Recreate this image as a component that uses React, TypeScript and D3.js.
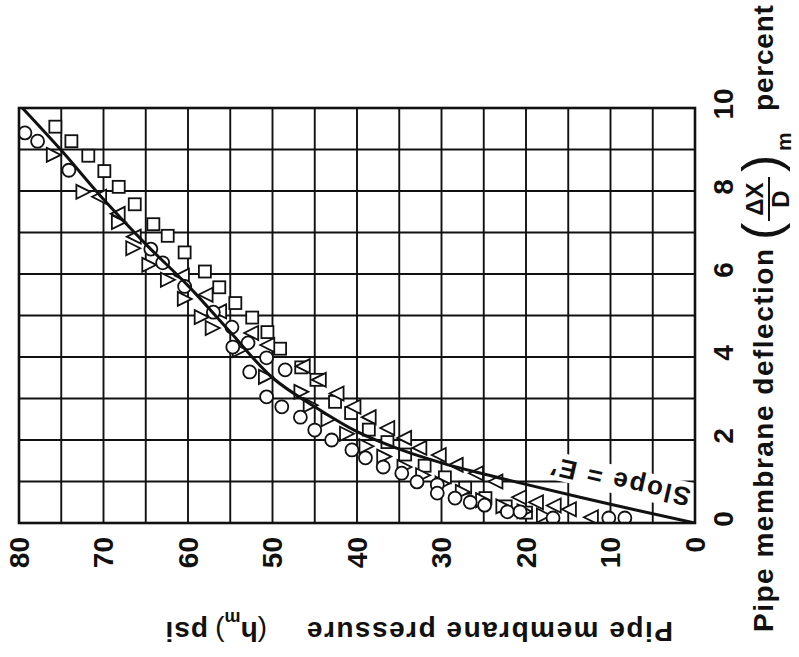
import React from 'react';
import * as d3 from 'd3';

// chart is drawn turned on its side, like the scanned figure
const W = 799;
const H = 657;
const plot = { left: 19, right: 695, top: 108, bottom: 523 };

const pressureTicks = [80, 70, 60, 50, 40, 30, 20, 10, 0];
const deflectionTicks = [0, 2, 4, 6, 8, 10];

// [pressure psi, deflection percent]
const circlePoints = [
  [79.3, 9.4], [77.8, 9.2], [74.1, 8.5], [64.4, 6.6], [63.0, 6.27], [60.4, 5.7],
  [57.0, 5.08], [54.8, 4.72], [52.9, 4.34], [54.7, 4.24], [50.7, 3.98], [52.7, 3.64],
  [48.5, 3.69], [50.7, 3.04], [48.9, 2.8], [46.7, 2.55], [45.0, 2.24], [43.0, 2.0],
  [40.6, 1.76], [39.0, 1.57], [36.9, 1.35], [34.7, 1.2], [32.9, 0.99], [30.5, 0.92],
  [30.5, 0.72], [28.4, 0.6], [26.6, 0.5], [24.9, 0.43], [22.2, 0.27], [20.7, 0.27],
  [16.8, 0.12], [10.2, 0.12], [8.3, 0.12],
];
const squarePoints = [
  [75.7, 9.55], [73.8, 9.2], [71.8, 8.85], [69.9, 8.48], [68.2, 8.1], [66.3, 7.68],
  [64.1, 7.2], [62.4, 6.92], [60.4, 6.52], [58.0, 6.06], [56.3, 5.68], [54.4, 5.3],
  [52.4, 4.95], [50.6, 4.6], [49.1, 4.2], [46.6, 3.75], [44.8, 3.45], [42.6, 2.92],
  [40.7, 2.65], [38.6, 2.25], [36.4, 1.95], [34.3, 1.65], [32.0, 1.38], [29.6, 1.1],
  [27.2, 0.85], [24.8, 0.6], [22.4, 0.4], [20.0, 0.25],
];
const rightTriPoints = [
  [76.0, 8.87], [72.5, 7.98], [68.3, 7.25], [66.6, 6.62], [64.7, 6.22], [62.5, 5.86],
  [60.5, 5.4], [58.5, 4.96], [57.2, 4.7], [54.0, 4.17], [50.9, 3.52], [46.7, 3.16],
  [45.6, 2.84], [43.5, 2.5], [41.3, 2.15], [39.0, 1.85], [36.9, 1.6], [34.5, 1.35],
  [32.3, 1.15], [30.0, 0.95], [27.6, 0.75], [25.2, 0.55], [22.8, 0.4], [20.3, 0.28],
  [18.0, 0.18],
];
const leftTriPoints = [
  [70.4, 7.86], [68.2, 7.45], [66.3, 6.9], [60.6, 5.96], [57.8, 5.5], [56.2, 5.1],
  [52.4, 4.58], [50.5, 4.29], [46.3, 3.78], [44.4, 3.45], [42.3, 3.12], [40.3, 2.8],
  [38.5, 2.55], [36.3, 2.29], [34.3, 2.05], [32.5, 1.81], [30.2, 1.64], [28.2, 1.4],
  [25.8, 1.2], [23.5, 1.0], [20.7, 0.62], [18.7, 0.5], [16.6, 0.42], [14.8, 0.33],
  [12.2, 0.14],
];

// fitted curve, slope = E'
const curvePsi = [0, 10, 20, 25, 30, 35, 40, 45, 50, 55, 60, 65, 70, 75, 79.6];
const curveDefl = [0, 0.45, 0.93, 1.18, 1.45, 1.78, 2.2, 2.8, 3.5, 4.6, 5.72, 6.72, 7.8, 8.98, 10];

const FONT = '"Liberation Sans", Arial, Helvetica, sans-serif';
const INK = '#111';

export default function App() {
  const x = d3.scaleLinear().domain([80, 0]).range([plot.left, plot.right]);
  const y = d3.scaleLinear().domain([0, 10]).range([plot.bottom, plot.top]);

  const gridX = d3.range(0, 81, 5);
  const gridY = d3.range(0, 11, 1);

  const line = d3.line<number>()
    .x(i => x(curvePsi[i]))
    .y(i => y(curveDefl[i]))
    .curve(d3.curveCatmullRom.alpha(0.5));
  const curvePath = line(d3.range(curvePsi.length)) || '';

  const mk = { fill: '#fff', stroke: INK, strokeWidth: 1.8 };

  return (
    <svg width={W} height={H} style={{ position: 'absolute', left: 0, top: 0, background: '#fff' }}
      fontFamily={FONT}>
      <defs>
        <clipPath id="plotClip">
          <rect x={plot.left} y={plot.top} width={plot.right - plot.left} height={plot.bottom - plot.top} />
        </clipPath>
      </defs>
      <rect width={W} height={H} fill="#fff" />

      {/* grid */}
      <g stroke={INK} strokeWidth={1.9}>
        {gridX.map(v => (
          <line key={'gx' + v} x1={x(v)} x2={x(v)} y1={plot.top} y2={plot.bottom} />
        ))}
        {gridY.map(v => (
          <line key={'gy' + v} x1={plot.left} x2={plot.right} y1={y(v)} y2={y(v)} />
        ))}
      </g>

      {/* white box behind the slope label */}
      <g transform="translate(692,489) rotate(193)">
        <rect x={-2} y={-22} width={152} height={28} fill="#fff" />
      </g>

      {/* data */}
      <g clipPath="url(#plotClip)">
        {squarePoints.map((d, i) => (
          <rect key={'s' + i} x={x(d[0]) - 6} y={y(d[1]) - 6} width={12} height={12} {...mk} />
        ))}
        {leftTriPoints.map((d, i) => (
          <path key={'l' + i} d="M6,-7L-8,0L6,7Z" transform={`translate(${x(d[0])},${y(d[1])})`} {...mk} />
        ))}
        {rightTriPoints.map((d, i) => (
          <path key={'r' + i} d="M-6,-7L8,0L-6,7Z" transform={`translate(${x(d[0])},${y(d[1])})`} {...mk} />
        ))}
        {circlePoints.map((d, i) => (
          <circle key={'c' + i} cx={x(d[0])} cy={y(d[1])} r={6.5} {...mk} />
        ))}
        <path d={curvePath} fill="none" stroke={INK} strokeWidth={3} />
      </g>

      <g transform="translate(692,489) rotate(193)">
        <text x={0} y={0} fontSize={26} fontWeight="bold" fill={INK} style={{ letterSpacing: '2px' }}>
          Slope = E′
        </text>
      </g>

      <rect x={plot.left} y={plot.top} width={plot.right - plot.left} height={plot.bottom - plot.top}
        fill="none" stroke={INK} strokeWidth={2.6} />

      {/* pressure ticks */}
      {pressureTicks.map(v => (
        <text key={'pt' + v} transform={`translate(${x(v)},537) rotate(-90)`} textAnchor="end"
          dominantBaseline="central" fontSize={28} fontWeight="bold" fill={INK}>
          {v}
        </text>
      ))}

      {/* deflection ticks */}
      {deflectionTicks.map(v => (
        <text key={'dt' + v} transform={`translate(723,${y(v) - 4}) rotate(-90)`} textAnchor="middle"
          dominantBaseline="central" fontSize={28} fontWeight="bold" fill={INK}>
          {v}
        </text>
      ))}

      {/* pressure title, upside down */}
      <g transform="translate(673,622) rotate(180)" fill={INK} fontWeight="bold">
        <text x={0} y={0} fontSize={28} style={{ letterSpacing: '1.5px' }}>Pipe membrane pressure</text>
        <text x={406} y={0} fontSize={28}>
          <tspan fontWeight="normal">(</tspan>h<tspan fontSize={18} dy={10}>m</tspan>
          <tspan fontWeight="normal" dy={-10}>)</tspan>
        </text>
        <text x={465} y={0} fontSize={28} style={{ letterSpacing: '1px' }}>psi</text>
      </g>

      {/* deflection title */}
      <g transform="translate(773,632) rotate(-90)" fill={INK} fontWeight="bold">
        <text x={0} y={0} fontSize={28} style={{ letterSpacing: '1.5px' }}>Pipe membrane deflection</text>
        <text x={392} y={6} fontSize={52} fontWeight="normal">(</text>
        <text x={433} y={-10} fontSize={24} textAnchor="middle">ΔX</text>
        <line x1={411} x2={455} y1={-4} y2={-4} stroke={INK} strokeWidth={2} />
        <text x={433} y={16} fontSize={24} textAnchor="middle">D</text>
        <text x={460} y={6} fontSize={52} fontWeight="normal">)</text>
        <text x={481} y={18} fontSize={21}>m</text>
        <text x={521} y={0} fontSize={28} style={{ letterSpacing: '0.8px' }}>percent</text>
      </g>
    </svg>
  );
}
